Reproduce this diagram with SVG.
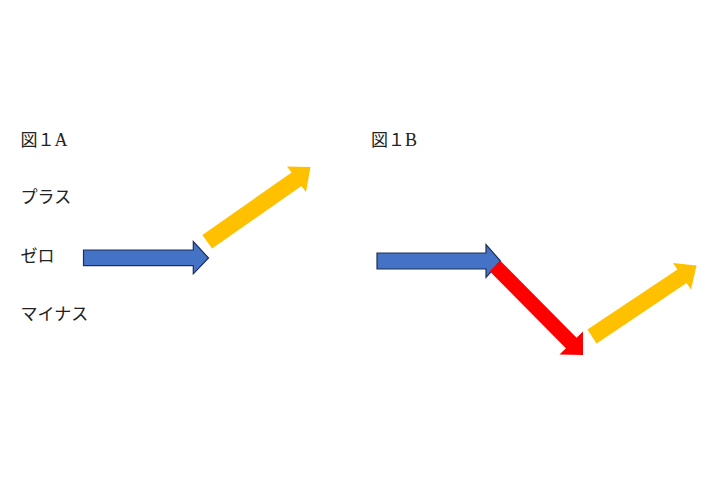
<svg xmlns="http://www.w3.org/2000/svg" width="720" height="480" viewBox="0 0 720 480">
<style>
.t{font-family:"Liberation Serif","Noto Sans CJK JP",serif;font-size:17px;fill:#222}
.lat{font-size:18px}
.blue{fill:#4472C4;stroke:#1F2F5A;stroke-width:1.2;stroke-linejoin:miter}
.yel{fill:#FFC000}
.red{fill:#FF0000}
</style>
<rect width="720" height="480" fill="#fff"/>
<g id="labels-a">
<text class="t" x="20.5" y="146">図１<tspan class="lat">A</tspan></text>
<text class="t" x="20.5" y="203">プラス</text>
<text class="t" x="20.5" y="261.5">ゼロ</text>
<text class="t" x="20.5" y="320">マイナス</text>
</g>
<g id="label-b">
<text class="t" x="371" y="146">図１<tspan class="lat">B</tspan></text>
</g>
<g id="arrows-a">
<polygon id="a-blue" class="blue" points="83.5,250 193.3,250 193.3,241.5 208.5,258 193.3,273.8 193.3,265.7 83.5,265.7"/>
<polygon id="a-yellow" class="yel" points="202.3,234.9 291.6,172.5 287,166.5 310.5,167 306,192 301.4,186.1 212.1,248.5"/>
</g>
<g id="arrows-b">
<polygon id="b-blue" class="blue" points="377,253 486,253 486,244.5 500.5,261 486,277.3 486,269 377,269"/>
<polygon id="b-red" class="red" points="489.7,271.3 500.3,260.7 576.6,337.8 583,331.5 583,355 559.5,354.5 565.9,348.3"/>
<polygon id="b-yellow" class="yel" points="587.4,329.6 677.4,269.4 673,263 696.5,265.5 691,289.5 686.6,283.1 596.6,343.4"/>
</g>
</svg>
